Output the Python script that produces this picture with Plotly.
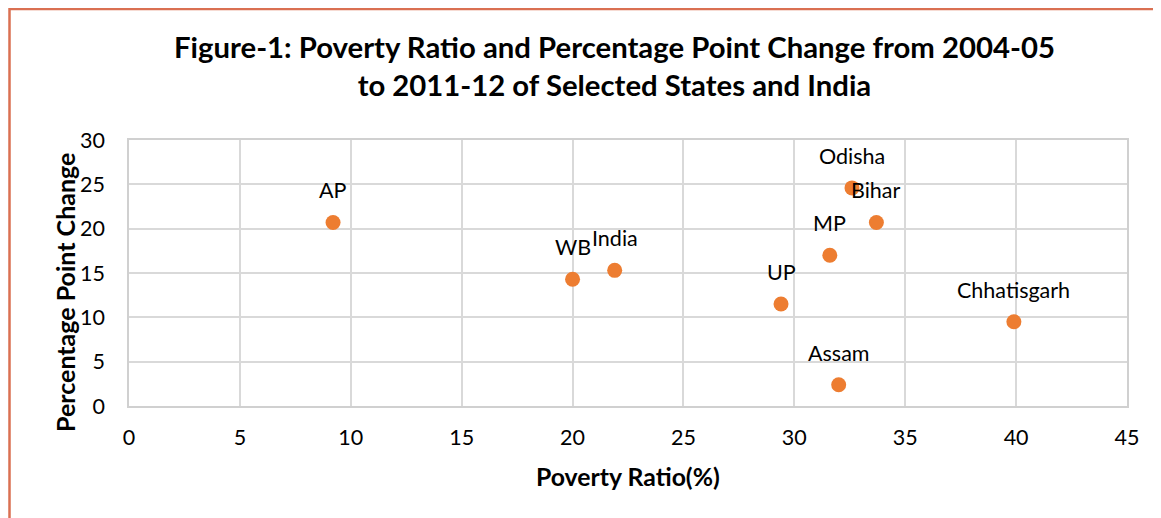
import plotly.graph_objects as go

states = ["AP", "WB", "India", "UP", "MP", "Odisha", "Bihar", "Assam", "Chhatisgarh"]
poverty_ratio = [9.2, 20.0, 21.9, 29.4, 31.6, 32.6, 33.7, 32.0, 39.9]
pp_change = [20.7, 14.3, 15.3, 11.5, 17.0, 24.6, 20.7, 2.4, 9.5]

x_ticks = [0, 5, 10, 15, 20, 25, 30, 35, 40, 45]
y_ticks = [0, 5, 10, 15, 20, 25, 30]

title_text = ("Figure-1: Poverty Ratio and Percentage Point Change from 2004-05"
              "<br>to 2011-12 of Selected States and India")
x_title = "Poverty Ratio(%)"
y_title = "Percentage Point Change"

FONT = "Lato"
OFF = 8  # page body margin
W, H = 1161 - OFF, 518 - OFF
L, T = 129 - OFF, 140 - OFF
R, B = W - (1127 - OFF), H - (406 - OFF)
PW, PH = W - L - R, H - T - B


def px_x(p):
    return (p - OFF - L) / PW


def px_y(p):
    return (H - B - (p - OFF)) / PH


fig = go.Figure()
fig.add_trace(go.Scatter(
    x=poverty_ratio, y=pp_change, mode="markers",
    marker=dict(size=15, color="#ED7D31"),
    hoverinfo="x+y+text", text=states, showlegend=False,
))

annotations = []
for name, xv, yv in zip(states, poverty_ratio, pp_change):
    annotations.append(dict(
        x=xv, y=yv, xref="x", yref="y", text=name, showarrow=False,
        yshift=32, xanchor="center", yanchor="middle",
        font=dict(family=FONT, size=21.5, color="#000000"),
    ))

annotations.append(dict(
    x=0.5 - 14 / PW, y=px_y(65), xref="paper", yref="paper", text=title_text,
    showarrow=False, xanchor="center", yanchor="middle",
    font=dict(family=FONT, size=29.3, color="#000000", weight="bold"),
))
annotations.append(dict(
    x=0.5, y=px_y(476), xref="paper", yref="paper", text="<b>" + x_title + "</b>",
    showarrow=False, xanchor="center", yanchor="middle",
    font=dict(family=FONT, size=24.8, color="#000000"),
))
annotations.append(dict(
    x=px_x(65), y=px_y(293), xref="paper", yref="paper", text="<b>" + y_title + "</b>",
    showarrow=False, xanchor="center", yanchor="middle", textangle=-90,
    font=dict(family=FONT, size=25, color="#000000"),
))

fig.update_layout(
    width=W, height=H,
    margin=dict(l=L, r=R, t=T, b=B),
    paper_bgcolor="white", plot_bgcolor="white",
    annotations=annotations,
    shapes=[dict(
        type="rect", xref="paper", yref="paper",
        x0=px_x(9.5), x1=px_x(1200), y0=px_y(560), y1=px_y(9),
        line=dict(color="#DA7052", width=2.5), fillcolor="rgba(0,0,0,0)",
        layer="below",
    )],
)
fig.update_xaxes(
    range=[0, 45], tickvals=x_ticks, ticktext=[str(v) for v in x_ticks],
    showgrid=True, gridcolor="#D9D9D9", gridwidth=1.5,
    showline=True, linecolor="#D0D0D0", linewidth=1.5, mirror=True,
    zeroline=False, ticks="", ticklabelstandoff=11,
    tickfont=dict(family=FONT, size=21.5, color="#000000"),
)
fig.update_yaxes(
    range=[0, 30], tickvals=y_ticks, ticktext=[str(v) for v in y_ticks],
    showgrid=True, gridcolor="#D9D9D9", gridwidth=1.5,
    showline=True, linecolor="#D0D0D0", linewidth=1.5, mirror=True,
    zeroline=False, ticks="", ticklabelstandoff=18,
    tickfont=dict(family=FONT, size=21.5, color="#000000"),
)

fig.write_html("out.html")
